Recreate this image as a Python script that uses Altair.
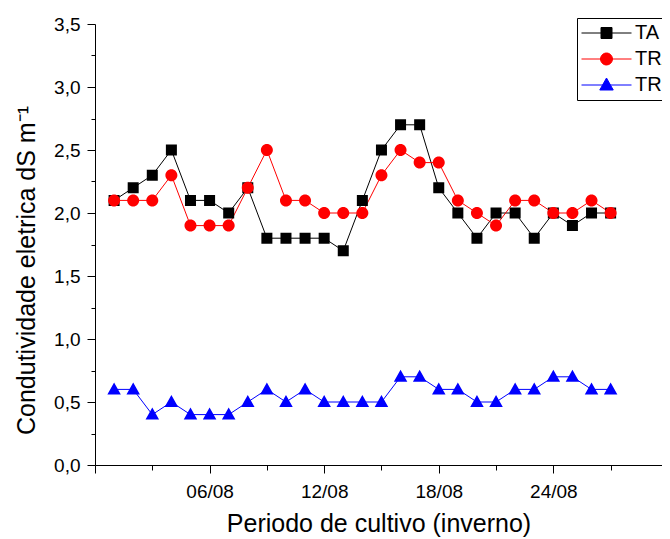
import altair as alt
import pandas as pd

# ---- data ----
days = [1, 2, 3, 4, 5, 6, 7, 8, 9, 10, 11, 12, 13, 14, 15, 16, 17, 18, 19, 20,
        21, 22, 23, 24, 25, 26, 27]
ta = [2.1, 2.2, 2.3, 2.5, 2.1, 2.1, 2.0, 2.2, 1.8, 1.8, 1.8, 1.8, 1.7, 2.1,
      2.5, 2.7, 2.7, 2.2, 2.0, 1.8, 2.0, 2.0, 1.8, 2.0, 1.9, 2.0, 2.0]
tra = [2.1, 2.1, 2.1, 2.3, 1.9, 1.9, 1.9, 2.2, 2.5, 2.1, 2.1, 2.0, 2.0, 2.0,
       2.3, 2.5, 2.4, 2.4, 2.1, 2.0, 1.9, 2.1, 2.1, 2.0, 2.0, 2.1, 2.0]
tr = [0.6, 0.6, 0.4, 0.5, 0.4, 0.4, 0.4, 0.5, 0.6, 0.5, 0.6, 0.5, 0.5, 0.5,
      0.5, 0.7, 0.7, 0.6, 0.6, 0.5, 0.5, 0.6, 0.6, 0.7, 0.7, 0.6, 0.6]
series_names = ["TA", "TRA", "TR"]
series_colors = ["#000000", "#ff0000", "#0000ff"]

x_major = [0, 6, 12, 18, 24, 30]
x_major_labels = ["", "06/08", "12/08", "18/08", "24/08", ""]
x_minor = [3, 9, 15, 21, 27]
y_major = [0.0, 0.5, 1.0, 1.5, 2.0, 2.5, 3.0, 3.5]
y_minor = [0.25, 0.75, 1.25, 1.75, 2.25, 2.75, 3.25]

rows = []
for name, vals in zip(series_names, [ta, tra, tr]):
    for d, v in zip(days, vals):
        rows.append({"day": d, "value": v, "serie": name})
df = pd.DataFrame(rows)

# marker shapes with a horizontal line (line only visible in legend, where stroke is drawn)
shape_paths = [
    "M-1,0H1M-0.22,-0.22H0.22V0.22H-0.22Z",
    "M-1,0H1M0.24,0A0.24,0.24,0,1,1,-0.24,0A0.24,0.24,0,1,1,0.24,0Z",
    "M-1,0H1M0,-0.28L0.27,0.2H-0.27Z",
]

FONT = "Liberation Sans"

x_ticks = sorted(x_major + x_minor)
x_label_expr = (
    "indexof(" + str(x_major) + ", datum.value) >= 0 ? "
    + str(x_major_labels) + "[indexof(" + str(x_major) + ", datum.value)] : ''"
)
y_ticks = sorted(y_major + y_minor)
y_label_expr = (
    "indexof(" + str(y_major) + ", datum.value) >= 0 ? "
    "replace(format(datum.value, '.1f'), '.', ',') : ''"
)

x_enc = alt.X(
    "day:Q",
    scale=alt.Scale(domain=[0, 29.69], nice=False, zero=False),
    axis=alt.Axis(
        values=x_ticks,
        labelExpr=x_label_expr,
        tickSize={"condition": {"test": "indexof(" + str(x_major) + ", datum.value) >= 0", "value": 8}, "value": 5},
        labelOverlap=False,
        grid=False,
        title="Periodo de cultivo (inverno)",
        labelFontSize=19,
        titleFontSize=25,
        labelPadding=9,
        titlePadding=10,
    ),
)
y_enc = alt.Y(
    "value:Q",
    scale=alt.Scale(domain=[0, 3.5], nice=False),
    axis=alt.Axis(
        values=y_ticks,
        labelExpr=y_label_expr,
        tickSize={"condition": {"test": "indexof(" + str(y_major) + ", datum.value) >= 0", "value": 8}, "value": 4},
        labelOverlap=False,
        grid=False,
        title="Condutividade eletrica dS m\u207b\u00b9",
        labelFontSize=19,
        titleFontSize=25,
        labelPadding=7,
        titlePadding=14,
        titleY=246,
    ),
)

leg = alt.Legend(
    title=None,
    orient="none",
    legendX=482,
    legendY=-6,
    strokeColor="black",
    fillColor="white",
    padding=4,
    labelFontSize=20,
    labelFont=FONT,
    labelOffset=3,
    symbolSize=2500,
    symbolStrokeWidth=1,
    clipHeight=22,
    rowPadding=4,
)

stroke_enc = alt.Stroke("serie:N", scale=alt.Scale(domain=series_names, range=series_colors), legend=leg)
fill_enc = alt.Fill("serie:N", scale=alt.Scale(domain=series_names, range=series_colors), legend=leg)
shape_enc = alt.Shape("serie:N", scale=alt.Scale(domain=series_names, range=shape_paths), legend=leg)

lines = alt.Chart(df).mark_line(strokeWidth=1).encode(
    x=x_enc, y=y_enc, stroke=stroke_enc
)
points = alt.Chart(df).mark_point(filled=True, size=2500, opacity=1).encode(
    x=x_enc, y=y_enc, fill=fill_enc, stroke=stroke_enc, shape=shape_enc,
    strokeWidth=alt.value(0),
)

chart = (
    alt.layer(lines, points)
    .properties(
        width=567,
        height=441,
        autosize=alt.AutoSizeParams(type="none"),
        padding={"left": 87, "top": 16, "right": 0, "bottom": 74},
    )
    .configure_view(stroke=None)
    .configure_axis(
        labelFont=FONT,
        titleFont=FONT,
        labelColor="black",
        titleColor="black",
        domainColor="black",
        tickColor="black",
        titleFontWeight="normal",
        domainWidth=1,
        tickWidth=1,
    )
)

chart.save("out.html", embed_options={"renderer": "svg", "actions": False})
